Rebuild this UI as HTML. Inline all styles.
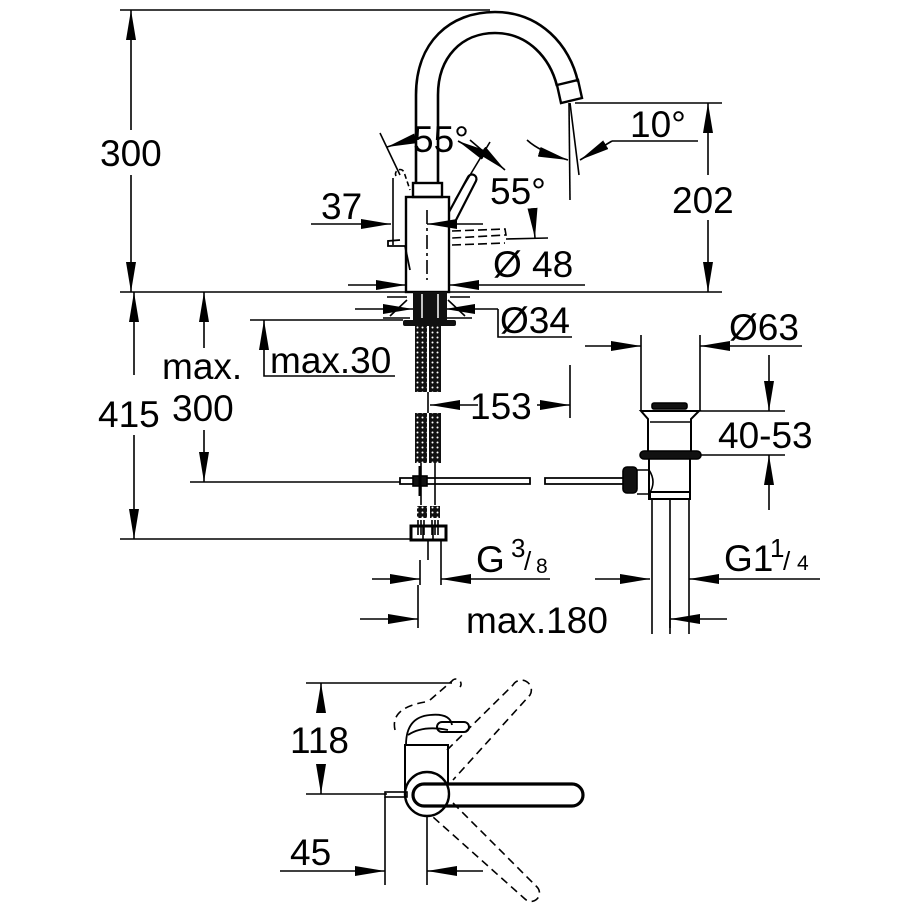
<!DOCTYPE html>
<html><head><meta charset="utf-8"><style>
html,body{margin:0;padding:0;background:#fff}
svg{display:block}
text{font-family:"Liberation Sans",sans-serif;fill:#000}
</style></head><body>
<svg width="920" height="920" viewBox="0 0 920 920" xmlns="http://www.w3.org/2000/svg">
<defs>
<marker id="b" viewBox="0 0 30 10" refX="30" refY="5" markerWidth="30" markerHeight="10" markerUnits="userSpaceOnUse" orient="auto-start-reverse">
<path d="M0,0 L30,5 L0,10 z" fill="#000"/></marker>
<pattern id="h" width="5" height="5" patternUnits="userSpaceOnUse">
<rect width="5" height="5" fill="#111"/><circle cx="2.5" cy="2.5" r="1" fill="#fff"/></pattern>
</defs>
<g stroke="#000" stroke-width="1.6" fill="none">
<line x1="120" y1="10" x2="490" y2="10"/>
<line x1="131" y1="130" x2="131" y2="10" marker-end="url(#b)"/>
<line x1="131" y1="175" x2="131" y2="292" marker-end="url(#b)"/>
<line x1="120" y1="292" x2="722" y2="292"/>
<line x1="575" y1="103" x2="722" y2="103"/>
<line x1="708" y1="175" x2="708" y2="103" marker-end="url(#b)"/>
<line x1="708" y1="220" x2="708" y2="292" marker-end="url(#b)"/>
<path d="M416,183 L416,95 C416,42 450,12 495,12 C540,12 570,45 578,82" stroke-width="2.6"/>
<path d="M438,183 L438,95 C438,57 462,33 495,33 C528,33 550,58 557,86" stroke-width="2.6"/>
<path d="M557,85 L578,80 L582,98 L561,103 z" stroke-width="2.4"/>
<line x1="570" y1="103" x2="579" y2="175"/>
<line x1="569" y1="103" x2="570" y2="200"/>
<path d="M527,140 Q540,152 568,160" marker-end="url(#b)"/>
<line x1="612" y1="141" x2="580" y2="160" marker-end="url(#b)"/>
<line x1="612" y1="141" x2="698" y2="141"/>
<rect x="413" y="183" width="29" height="14" stroke-width="2.4"/>
<rect x="406" y="197" width="43" height="95" stroke-width="2.4"/>
<line x1="427" y1="210" x2="427" y2="280" stroke-dasharray="14,4,3,4"/>
<path d="M449,212 L468,177 A4,4 0 0 1 476,181 L455,222" stroke-width="2.2"/>
<path d="M396,176 A4,4 0 0 1 404,172 L410,190" stroke-width="1.6" stroke-dasharray="5,3"/>
<line x1="393" y1="178" x2="393" y2="245"/>
<path d="M400,240 L388,241 L388,246 L405,246 L410,270" stroke-width="1.8"/>
<line x1="380" y1="133" x2="400" y2="175"/>
<line x1="490" y1="142" x2="455" y2="200"/>
<line x1="410" y1="140" x2="387" y2="147" marker-end="url(#b)"/>
<line x1="470" y1="140" x2="505" y2="170" marker-end="url(#b)"/>
<line x1="495" y1="161" x2="458" y2="141" marker-end="url(#b)"/>
<line x1="311" y1="224" x2="391" y2="224" marker-end="url(#b)"/>
<line x1="483" y1="224" x2="427" y2="224" marker-end="url(#b)"/>
<path d="M452,231 L505,229 L506,235 L452,238 M452,245 L505,243" stroke-dasharray="9,4"/>
<line x1="506" y1="239" x2="548" y2="238"/>
<line x1="533" y1="214" x2="535" y2="238" marker-end="url(#b)"/>
<line x1="348" y1="285" x2="406" y2="285" marker-end="url(#b)"/>
<line x1="585" y1="285" x2="449" y2="285" marker-end="url(#b)"/>
<line x1="355" y1="309" x2="413" y2="309" marker-end="url(#b)"/>
<line x1="498" y1="309" x2="445" y2="309" marker-end="url(#b)"/>
<polyline points="498,309 498,337 572,337"/>
<path d="M387,297 L407,297 M383,318 L410,318 M390,316 L407,300 M448,300 L465,316 M450,297 L470,297 M447,318 L472,318" stroke-width="1.6"/>
</g>
<rect x="413" y="292" width="34" height="28" fill="#111"/>
<line x1="422" y1="294" x2="422" y2="318" stroke="#fff" stroke-width="1.5"/><line x1="438" y1="294" x2="438" y2="318" stroke="#fff" stroke-width="1.5"/>
<rect x="403" y="320" width="53" height="6" rx="2" fill="#111"/>
<rect x="415" y="326" width="12" height="66" fill="url(#h)"/>
<rect x="429" y="326" width="12" height="66" fill="url(#h)"/>
<rect x="415" y="413" width="12" height="50" fill="url(#h)"/>
<rect x="429" y="413" width="12" height="50" fill="url(#h)"/>
<rect x="417" y="506" width="10" height="12" fill="url(#h)"/>
<rect x="430" y="506" width="10" height="12" fill="url(#h)"/>
<g stroke="#000" stroke-width="1.6" fill="none">
<path d="M418,520 v15 M421,520 v15 M424,520 v15 M432,520 v15 M435,520 v15 M438,520 v15"/>
<line x1="428" y1="392" x2="428" y2="413"/>
<line x1="421" y1="463" x2="421" y2="505"/><line x1="435" y1="463" x2="435" y2="505"/>
<rect x="411" y="526" width="35" height="14" stroke-width="3"/>
<line x1="423" y1="526" x2="423" y2="540"/><line x1="433" y1="526" x2="433" y2="540"/>
<line x1="428" y1="540" x2="428" y2="560"/>
<line x1="134" y1="375" x2="134" y2="292" marker-end="url(#b)"/>
<line x1="134" y1="435" x2="134" y2="539" marker-end="url(#b)"/>
<line x1="120" y1="539" x2="412" y2="539"/>
<line x1="204" y1="348" x2="204" y2="292" marker-end="url(#b)"/>
<line x1="204" y1="430" x2="204" y2="482" marker-end="url(#b)"/>
<line x1="190" y1="482" x2="400" y2="482"/>
<line x1="250" y1="320" x2="403" y2="320"/>
<polyline points="395,376 264,376 264,320" marker-end="url(#b)"/>
<path d="M400,478 h130 v6 h-130 z M545,478 h80 v6 h-80 z" stroke-width="1.8"/>
<rect x="413" y="476" width="14" height="10" fill="#111"/>
<line x1="420" y1="466" x2="420" y2="496" stroke-width="3"/>
<rect x="623" y="467" width="14" height="26" rx="4" fill="#111"/>
<path d="M637,470 h12 q8,12 0,24 h-12"/>
<line x1="478" y1="405" x2="430" y2="405" marker-end="url(#b)"/>
<line x1="537" y1="405" x2="570" y2="405" marker-end="url(#b)"/>
<line x1="570" y1="365" x2="570" y2="418"/>
<rect x="652" y="403" width="35" height="6" rx="2" fill="#111"/>
<path d="M641,411 h58 l-8,8 v34 h-43 v-34 z" stroke-width="2"/>
<line x1="650" y1="422" x2="691" y2="422"/>
<rect x="640" y="451" width="61" height="8" rx="4" fill="#111"/>
<path d="M649,459 v40 h41 v-40" stroke-width="2"/>
<rect x="650" y="492" width="40" height="7" fill="none" stroke-width="2"/>
<path d="M652,499 v135 M670,499 v135 M689,499 v135"/>
<line x1="641" y1="335" x2="641" y2="411"/><line x1="700" y1="335" x2="700" y2="411"/>
<line x1="585" y1="346" x2="641" y2="346" marker-end="url(#b)"/>
<line x1="802" y1="346" x2="700" y2="346" marker-end="url(#b)"/>
<line x1="699" y1="411" x2="785" y2="411"/><line x1="700" y1="455" x2="785" y2="455"/>
<line x1="769" y1="355" x2="769" y2="411" marker-end="url(#b)"/>
<line x1="769" y1="510" x2="769" y2="455" marker-end="url(#b)"/>
<line x1="420" y1="560" x2="420" y2="585"/><line x1="441" y1="540" x2="441" y2="585"/>
<line x1="372" y1="579" x2="420" y2="579" marker-end="url(#b)"/>
<line x1="550" y1="579" x2="441" y2="579" marker-end="url(#b)"/>
<line x1="595" y1="579" x2="650" y2="579" marker-end="url(#b)"/>
<line x1="820" y1="579" x2="689" y2="579" marker-end="url(#b)"/>
<line x1="418" y1="585" x2="418" y2="628"/><line x1="670" y1="600" x2="670" y2="628"/>
<line x1="360" y1="619" x2="418" y2="619" marker-end="url(#b)"/>
<line x1="727" y1="619" x2="670" y2="619" marker-end="url(#b)"/>
<line x1="306" y1="683" x2="452" y2="683"/>
<line x1="306" y1="794" x2="387" y2="794"/>
<line x1="321" y1="712" x2="321" y2="683" marker-end="url(#b)"/>
<line x1="321" y1="765" x2="321" y2="794" marker-end="url(#b)"/>
<rect x="385" y="792" width="22" height="5"/>
<line x1="385" y1="797" x2="385" y2="885"/><line x1="427" y1="815" x2="427" y2="885"/>
<line x1="280" y1="871" x2="385" y2="871" marker-end="url(#b)"/>
<line x1="483" y1="871" x2="427" y2="871" marker-end="url(#b)"/>
<path d="M405,790 v-45 h43 v40" stroke-width="2"/>
<path d="M406,745 q0,-28 24,-30 q20,-2 22,10 M408,735 q15,-10 40,-5" stroke-width="1.8"/>
<path d="M395,730 q-5,-22 30,-28 M430,700 l22,-19 a4,4 0 0 1 8,6 M447,750 l66,-65 a8,8 0 0 1 17,10 l-77,85" stroke-dasharray="8,5"/>
<path d="M453,803 l84,84 a8,8 0 0 1 -12,12 l-92,-82" stroke-dasharray="8,5"/>
<rect x="437" y="722" width="32" height="10" rx="5" stroke-width="2"/>
<circle cx="427" cy="794" r="22" stroke-width="2.4"/>
<rect x="413" y="784" width="170" height="22" rx="11" stroke-width="3.2"/>
</g>
<g font-size="37">
<text x="100" y="166">300</text>
<text x="672" y="213">202</text>
<text x="413" y="152">55°</text>
<text x="490" y="204">55°</text>
<text x="630" y="137">10°</text>
<text x="321" y="219">37</text>
<text x="493" y="277">Ø 48</text>
<text x="500" y="333">Ø34</text>
<text x="729" y="340">Ø63</text>
<text x="270" y="373">max.30</text>
<text x="162" y="379">max.</text>
<text x="98" y="427">415</text>
<text x="172" y="421">300</text>
<text x="470" y="419">153</text>
<text x="718" y="448">40-53</text>
<text x="476" y="572">G</text>
<text x="724" y="571">G1</text>
<text x="466" y="633">max.180</text>
<text x="290" y="753">118</text>
<text x="290" y="865">45</text>
</g>
<g font-size="26">
<text x="511" y="557">3</text><text x="524" y="570">/</text><text x="536" y="573" font-size="21">8</text>
<text x="770" y="557">1</text><text x="783" y="570">/</text><text x="797" y="570" font-size="21">4</text>
</g>
</svg>
</body></html>
